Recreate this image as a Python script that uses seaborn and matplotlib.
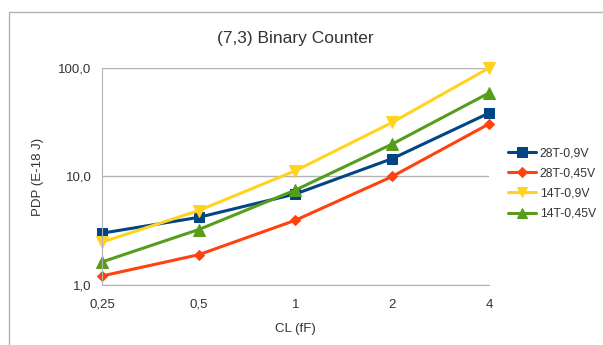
import numpy as np
import pandas as pd
import matplotlib.pyplot as plt
import matplotlib.patches as mpatches
import seaborn as sns

# values
cl_labels = ["0,25", "0,5", "1", "2", "4"]
cl_values = [0.25, 0.5, 1, 2, 4]
series_names = ["28T-0,9V", "28T-0,45V", "14T-0,9V", "14T-0,45V"]
pdp_28t_09 = [3.0, 4.2, 6.9, 14.6, 38.4]
pdp_28t_045 = [1.21, 1.9, 3.95, 10.0, 30.5]
pdp_14t_09 = [2.48, 4.85, 11.3, 31.5, 100.0]
pdp_14t_045 = [1.63, 3.24, 7.5, 19.9, 58.8]

colors = ["#004586", "#ff420e", "#ffd320", "#579d1c"]
markers = ["s", "D", "v", "^"]
msizes = [7.5, 5.5, 8, 8]

df = pd.DataFrame({
    "CL": cl_values * 4,
    "PDP": pdp_28t_09 + pdp_28t_045 + pdp_14t_09 + pdp_14t_045,
    "series": np.repeat(series_names, len(cl_values)),
})

sns.set_style("white")
plt.rcParams["font.family"] = ["Liberation Sans", "DejaVu Sans"]

fig = plt.figure(figsize=(6.03, 3.45), dpi=100)
ax = fig.add_axes([0.169, 0.174, 0.642, 0.629])

for name, c, m, ms in zip(series_names, colors, markers, msizes):
    sub = df[df["series"] == name]
    sns.lineplot(data=sub, x="CL", y="PDP", color=c, marker=m, markersize=ms,
                 markeredgecolor=c, linewidth=2.2, label=name, ax=ax)

ax.set_xscale("log", base=2)
ax.set_yscale("log")
ax.set_xlim(0.25, 4)
ax.set_ylim(1, 100)
ax.set_xticks(cl_values)
ax.set_xticklabels(cl_labels)
ax.minorticks_off()
ax.set_yticks([1, 10, 100])
ax.set_yticklabels(["1,0", "10,0", "100,0"])
ax.yaxis.grid(True, color="#b3b3b3", linewidth=1)
ax.xaxis.grid(False)
for s in ["top", "right"]:
    ax.spines[s].set_visible(False)
for s in ["left", "bottom"]:
    ax.spines[s].set_color("#b3b3b3")
ax.tick_params(axis="both", colors="#b3b3b3", labelcolor="#333333",
               labelsize=9.5, length=4, width=1, direction="out")
ax.tick_params(axis="x", pad=6)
ax.set_xlabel("CL (fF)", fontsize=9.5, color="#333333", labelpad=9)
ax.set_ylabel("PDP (E-18 J)", fontsize=9.5, color="#333333", labelpad=10)
ax.set_title("(7,3) Binary Counter", fontsize=12.5, color="#333333", pad=18)
for line in ax.get_lines():
    line.set_clip_on(False)

leg = ax.legend(loc="upper left", bbox_to_anchor=(508 / 603, 1 - 147 / 345),
                bbox_transform=fig.transFigure, frameon=False, fontsize=8.8,
                handlelength=2.3, handletextpad=0.3, labelspacing=0.68,
                borderaxespad=0, borderpad=0, markerscale=0.9)
for t in leg.get_texts():
    t.set_color("#333333")

# outer chart frame
fig.patches.append(mpatches.Rectangle((9 / 603, -0.1), 1.2, 1 - 12 / 345 + 0.1,
                                      transform=fig.transFigure, fill=False,
                                      edgecolor="#b3b3b3", linewidth=1))

fig.savefig("out.png", dpi=100)
